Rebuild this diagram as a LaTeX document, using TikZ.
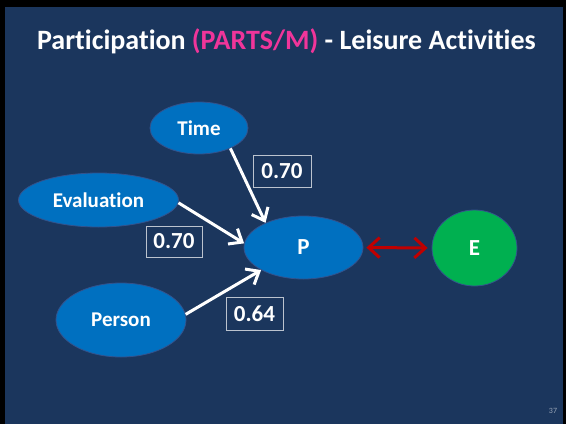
\documentclass[tikz,border=0pt]{standalone}
\usepackage{fontspec}
\setmainfont{Carlito}[Ligatures={NoCommon,NoContextual}]
\usetikzlibrary{arrows.meta, shapes.geometric, calc}

\definecolor{slidebg}{RGB}{27,54,93}
\definecolor{nodeblue}{RGB}{0,112,192}
\definecolor{nodeedge}{RGB}{52,82,140}
\definecolor{nodegreen}{RGB}{0,176,80}
\definecolor{titlepink}{RGB}{240,53,154}
\definecolor{linkred}{RGB}{192,0,0}

\tikzset{
    latent/.style={ellipse, draw=nodeedge, line width=0.8pt, fill=nodeblue, text=white,
        font=\bfseries\fontsize{21}{24}\selectfont, inner sep=0pt},
    coef/.style={draw=white!70!slidebg, line width=1pt, text=white,
        font=\bfseries\fontsize{23}{26}\selectfont, inner sep=0pt},
    effect/.style={-{Straight Barb[length=11pt, width=18pt, line width=3pt]}, white, line width=3pt},
}

\begin{document}
\begin{tikzpicture}[x=1pt, y=-1pt]

    \path[fill=black] (0,0) rectangle (566,424);
    \useasboundingbox (0,0) rectangle (566,424);
    \path[fill=slidebg] (5,7) rectangle (563,424);

    % title
    \node[anchor=base, text=white, font=\bfseries\fontsize{28}{31}\selectfont] (title) at (286.5,49.5)
        {Participation \textcolor{titlepink}{(PARTS/M)} - Leisure Activities};

    % the nodes
    \node[latent, minimum width=98pt, minimum height=52pt] (time) at (199,128) {Time};
    \node[latent, minimum width=160pt, minimum height=54pt] (eval) at (98.5,200) {Evaluation};
    \node[latent, minimum width=130pt, minimum height=74pt] (person) at (121,320) {Person};
    \node[latent, font=\bfseries\fontsize{23}{26}\selectfont, minimum width=119pt, minimum height=63pt] (p) at (303.5,247.5) {P};
    \node[latent, font=\bfseries\fontsize{23}{26}\selectfont, fill=nodegreen, minimum width=85pt, minimum height=76pt] (e) at (474.5,248) {E};

    % the paths
    \path[draw, effect] (time.-33) -- (p.147);
    \path[draw, effect] (eval.-2) -- (p.176);
    \path[draw, effect] (person.5) -- (p.208);
    \path[draw, linkred, line width=3pt,
        {Straight Barb[length=11pt, width=20pt, line width=3pt]}-{Straight Barb[length=11pt, width=20pt, line width=3pt]},
        shorten <=3pt, shorten >=4pt] (p.east) -- (e.west);

    % coefficients
    \node[coef, minimum width=58pt, minimum height=32pt] (c1) at (282,171) {0.70};
    \node[coef, minimum width=56pt, minimum height=31pt] (c2) at (174,241.5) {0.70};
    \node[coef, minimum width=57pt, minimum height=33pt] (c3) at (254.5,314) {0.64};

    % page number
    \node[text=white!55!slidebg, font=\fontsize{8}{9}\selectfont] (page) at (553,411) {37};

\end{tikzpicture}
\end{document}
